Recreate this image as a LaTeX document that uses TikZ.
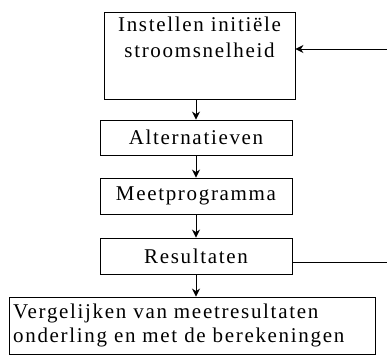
\documentclass[tikz,border=0pt]{standalone}
\usepackage{fontspec}
\setmainfont[LetterSpace=8]{Liberation Serif}
\usetikzlibrary{arrows.meta}
\begin{document}
\begin{tikzpicture}[x=1pt,y=-1pt,
  box/.style={draw,line width=0.9pt,inner sep=0pt},
  txt/.style={inner sep=0pt,font=\fontsize{21}{24}\selectfont},
  arr/.style={-{Stealth[length=8pt,width=8pt]},line width=0.9pt}]
\useasboundingbox (0,0) rectangle (387,354);
\node[box,minimum width=191,minimum height=87] (b1) at (199.5,55.5) {};
\node[txt,anchor=base] (t1a) at (199.5,31) {Instellen initiële};
\node[txt,anchor=base] (t1b) at (199.5,57) {stroomsnelheid};
\node[box,txt,minimum width=192,minimum height=35] (b2) at (196,137.5) {Alternatieven};
\node[box,txt,minimum width=192,minimum height=36] (b3) at (196,196) {Meetprogramma};
\node[box,txt,minimum width=192,minimum height=36] (b4) at (196,256) {Resultaten};
\node[box,minimum width=366,minimum height=57] (b5) at (192,325.5) {};
\node[txt,anchor=base west] (t5a) at (13,318) {Vergelijken van meetresultaten};
\node[txt,anchor=base west] (t5b) at (13,342) {onderling en met de berekeningen};
\coordinate (r1) at (387,49);
\coordinate (r4) at (387,262);
\draw[arr] (b1.south -| 196,0) -- (b2.north -| 196,0);
\draw[arr] (b2.south -| 196,0) -- (b3.north -| 196,0);
\draw[arr] (b3.south -| 196,0) -- (b4.north -| 196,0);
\draw[arr] (b4.south -| 196,0) -- (b5.north -| 196,0);
\draw[line width=0.9pt] (b4.east |- r4) -- (r4);
\draw[arr] (r1) -- (r1 -| b1.east);
\end{tikzpicture}
\end{document}
